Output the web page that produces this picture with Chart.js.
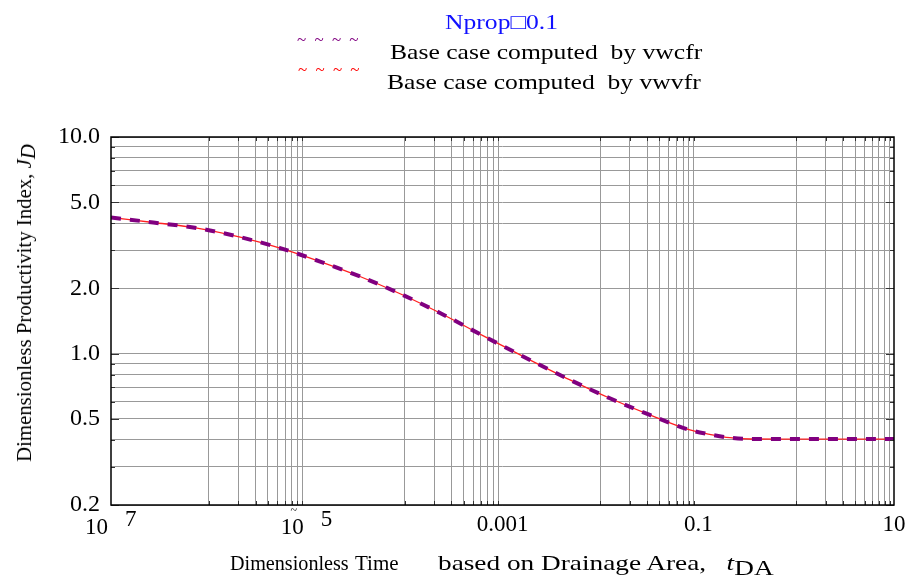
<!DOCTYPE html>
<html lang="en">
<head>
<meta charset="UTF-8">
<title>Dimensionless Productivity Index vs Time</title>
<style>
    body {
        margin: 0;
        background: #fff;
        font-family: "Liberation Serif", "Times New Roman", serif;
    }
    #wrap {
        position: relative;
        width: 910px;
        height: 579px;
    }
    #chart {
        position: absolute;
        left: 0;
        top: 0;
    }
    .lbl {
        position: absolute;
        white-space: pre;
        line-height: 1;
        color: #000;
        transform-origin: 0 50%;
    }
    #nprop {
        left: 445px; top: 12px;
        color: #1010ff; font-size: 21px;
        transform: scaleX(1.22);
    }
    .sample {
        font-size: 17px;
        letter-spacing: 2px;
    }
    .entry {
        font-size: 21px;
        transform: scaleX(1.22);
    }
    .xt {
        top: 553px;
        font-size: 21px;
    }
    #ytitle {
        left: 24px; top: 303px;
        font-size: 20px;
        transform-origin: 50% 50%;
        transform: translate(-50%, -50%) rotate(-90deg) scaleX(1.04);
    }
    .sub { position: relative; top: 5px; }
</style>
</head>
<body>
<div id="wrap">
    <canvas id="chart" width="910" height="579"></canvas>

    <div class="lbl" id="nprop">Nprop□0.1</div>
    <div class="lbl sample" style="left:297px; top:31px; color:#800080;">~ ~ ~ ~</div>
    <div class="lbl entry" style="left:390px; top:42px;">Base case computed  by vwcfr</div>
    <div class="lbl sample" style="left:298px; top:61px; color:#ff0000;">~ ~ ~ ~</div>
    <div class="lbl entry" style="left:387px; top:72px;">Base case computed  by vwvfr</div>

    <div class="lbl xt" style="left:230px; transform:scaleX(0.96);">Dimensionless</div>
    <div class="lbl xt" style="left:355px;">Time</div>
    <div class="lbl xt" style="left:438px; font-size:22px; top:552px; transform:scaleX(1.24);">based on Drainage Area,   <i>t</i><span class="sub">DA</span></div>
    <div class="lbl" id="ytitle">Dimensionless Productivity Index, <i>J<span class="sub" style="top:4px">D</span></i></div>
</div>

<script src="https://cdn.jsdelivr.net/npm/chart.js"></script>
<script>
    // curve (t_DA, J_D)
    const tValues = [1e-7, 2.7e-7, 7.55e-7, 2.09e-6, 5.35e-6, 1.37e-5, 3.5e-5, 9.0e-5, 2.3e-4, 6.3e-4,
                     1.78e-3, 4.9e-3, 1.25e-2, 3.2e-2, 8.2e-2, 0.131, 0.21, 0.34, 1, 10];
    const jVwcfr = [4.25, 4.03, 3.80, 3.45, 3.07, 2.66, 2.27, 1.89, 1.54, 1.21,
                    0.95, 0.756, 0.622, 0.521, 0.444, 0.424, 0.409, 0.4035, 0.403, 0.403];
    const jVwvfr = [4.25, 4.03, 3.80, 3.45, 3.07, 2.66, 2.27, 1.89, 1.54, 1.21,
                    0.95, 0.756, 0.622, 0.521, 0.444, 0.424, 0.409, 0.4035, 0.403, 0.403];

    // grid lines and tick labels
    const xGridValues = [1e-6, 2e-6, 3e-6, 4e-6, 5e-6, 6e-6, 7e-6, 8e-6, 9e-6,
                         1e-4, 2e-4, 3e-4, 4e-4, 5e-4, 6e-4, 7e-4, 8e-4, 9e-4,
                         1e-2, 2e-2, 3e-2, 4e-2, 5e-2, 6e-2, 7e-2, 8e-2, 9e-2,
                         1, 2, 3, 4, 5, 6, 7, 8, 9];
    const xLabelValues = [1e-7, 1e-5, 1e-3, 0.1, 10];
    const xLabelText = [['10', '7'], ['10', '5'], '0.001', '0.1', '10'];

    const yGridValues = [0.2, 0.3, 0.4, 0.5, 0.6, 0.7, 0.8, 0.9, 1, 2, 3, 4, 5, 6, 7, 8, 9, 10];
    const yLabelValues = [0.2, 0.5, 1, 2, 5, 10];
    const yLabelText = ['0.2', '0.5', '1.0', '2.0', '5.0', '10.0'];

    const FONT = '"Liberation Serif", "Times New Roman", serif';

    // frame, tick stubs and the x tick labels (10^n written with raised exponent)
    const framePlugin = {
        id: 'frame',
        afterDraw(chart) {
            const ctx = chart.ctx;
            const a = chart.chartArea;
            const sx = chart.scales.x, sy = chart.scales.y;
            ctx.save();
            ctx.strokeStyle = '#333';
            ctx.lineWidth = 1;
            ctx.beginPath();
            xGridValues.forEach(v => {
                const px = Math.round(sx.getPixelForValue(v)) + 0.5;
                ctx.moveTo(px, a.top); ctx.lineTo(px, a.top + 4);
                ctx.moveTo(px, a.bottom); ctx.lineTo(px, a.bottom - 4);
            });
            yGridValues.forEach(v => {
                const py = Math.round(sy.getPixelForValue(v)) + 0.5;
                const len = yLabelValues.includes(v) ? 8 : 4;
                ctx.moveTo(a.left, py); ctx.lineTo(a.left + len, py);
                ctx.moveTo(a.right, py); ctx.lineTo(a.right - len, py);
            });
            ctx.stroke();

            ctx.strokeStyle = '#000';
            ctx.lineWidth = 1.5;
            ctx.strokeRect(a.left, a.top, a.right - a.left, a.bottom - a.top);

            ctx.fillStyle = '#000';
            ctx.textBaseline = 'middle';
            ctx.font = '23px ' + FONT;
            xLabelValues.forEach((v, i) => {
                const px = sx.getPixelForValue(v);
                const t = xLabelText[i];
                if (Array.isArray(t)) {
                    ctx.textAlign = 'right';
                    ctx.fillText(t[0], px - 3, a.bottom + 23);
                    ctx.textAlign = 'left';
                    ctx.fillText(t[1], px + 14, a.bottom + 15);
                    if (i > 0) {
                        ctx.font = '12px ' + FONT;
                        ctx.textAlign = 'center';
                        ctx.fillText('~', px - 13, a.bottom + 6);
                        ctx.font = '23px ' + FONT;
                    }
                } else {
                    ctx.textAlign = 'center';
                    ctx.fillText(t, px, a.bottom + 20);
                }
            });
            ctx.restore();
        }
    };

    new Chart(document.getElementById('chart'), {
        type: 'line',
        data: {
            datasets: [{
                label: 'Base case computed by vwcfr',
                data: tValues.map((t, i) => ({ x: t, y: jVwcfr[i] })),
                borderColor: '#800080',
                borderWidth: 4,
                borderDash: [10, 9],
                pointRadius: 0,
                cubicInterpolationMode: 'monotone'
            }, {
                label: 'Base case computed by vwvfr',
                data: tValues.map((t, i) => ({ x: t, y: jVwvfr[i] })),
                borderColor: '#ff2020',
                borderWidth: 1.3,
                pointRadius: 0,
                cubicInterpolationMode: 'monotone'
            }]
        },
        options: {
            responsive: false,
            animation: false,
            layout: { padding: { top: 137, right: 16, left: 0, bottom: 0 } },
            plugins: {
                legend: { display: false },
                tooltip: { enabled: false }
            },
            scales: {
                x: {
                    type: 'logarithmic',
                    min: 1e-7,
                    max: 10,
                    afterBuildTicks: s => { s.ticks = xGridValues.map(v => ({ value: v })); },
                    afterFit: s => { s.height = 74; },
                    ticks: { display: false },
                    grid: { color: '#999', drawTicks: false },
                    border: { display: false }
                },
                y: {
                    type: 'logarithmic',
                    min: 0.2,
                    max: 10,
                    afterBuildTicks: s => { s.ticks = yGridValues.map(v => ({ value: v })); },
                    afterFit: s => { s.width = 111; },
                    ticks: {
                        autoSkip: false,
                        padding: 11,
                        color: '#000',
                        font: { family: FONT, size: 24 },
                        callback: v => {
                            const i = yLabelValues.indexOf(v);
                            return i >= 0 ? yLabelText[i] : '';
                        }
                    },
                    grid: { color: '#999', drawTicks: false },
                    border: { display: false }
                }
            }
        },
        plugins: [framePlugin]
    });
</script>
</body>
</html>
